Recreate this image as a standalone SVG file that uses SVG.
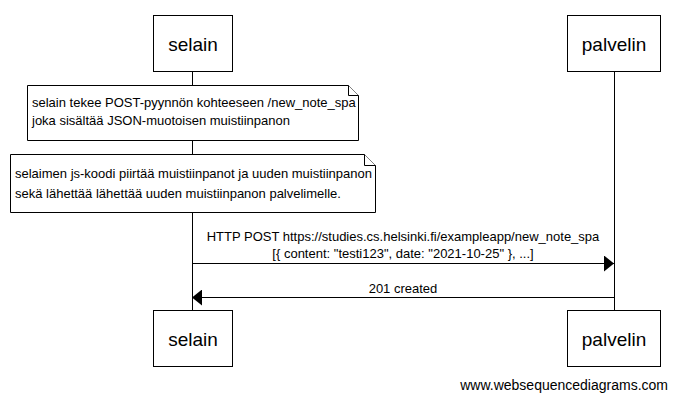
<svg xmlns="http://www.w3.org/2000/svg" width="675" height="400" viewBox="0 0 675 400">
<defs>
<style>
text{font-family:"Liberation Sans",Arial,sans-serif;fill:#000}
.p{font-size:19px;text-anchor:middle}
.t{font-size:13px}
.m{font-size:13px;text-anchor:middle}
.box{fill:#fff;stroke:#000;stroke-width:1}
.note{fill:#fff;stroke:#000;stroke-width:1}
.life{stroke:#000;stroke-width:1;fill:none}
.msg{stroke:#000;stroke-width:1;fill:none}
</style>
<marker id="ah" markerWidth="10" markerHeight="16" refX="10" refY="8" orient="auto" markerUnits="userSpaceOnUse">
<path d="M0,0 L10,8 L0,16 Z" fill="#000"/>
</marker>
</defs>
<rect width="675" height="400" fill="#fff"/>
<g id="lifelines">
<line class="life" x1="192.5" y1="71" x2="192.5" y2="310"/>
<line class="life" x1="614.5" y1="71" x2="614.5" y2="310"/>
</g>
<g id="selain-top">
<rect class="box" x="153.5" y="15.5" width="79" height="56"/>
<text class="p" x="193" y="51">selain</text>
</g>
<g id="palvelin-top">
<rect class="box" x="567.5" y="15.5" width="93" height="56"/>
<text class="p" x="614" y="51">palvelin</text>
</g>
<g id="note1">
<path class="note" d="M27.5,85.5 H348.5 L358.5,95.5 V140.5 H27.5 Z"/>
<path class="note" d="M348.5,85.5 V95.5 H358.5"/>
<text class="t" x="32" y="107">selain tekee POST-pyynnön kohteeseen /new_note_spa</text>
<text class="t" x="32" y="125">joka sisältää JSON-muotoisen muistiinpanon</text>
</g>
<g id="note2">
<path class="note" d="M10.5,154.5 H364.5 L375.5,165.5 V212.5 H10.5 Z"/>
<path class="note" d="M364.5,154.5 V165.5 H375.5"/>
<text class="t" x="15" y="178">selaimen js-koodi piirtää muistiinpanot ja uuden muistiinpanon</text>
<text class="t" x="15" y="198">sekä lähettää lähettää uuden muistiinpanon palvelimelle.</text>
</g>
<g id="connectors">
<line class="msg" x1="192.5" y1="263.5" x2="614" y2="263.5" marker-end="url(#ah)"/>
<text class="m" x="403" y="241">HTTP POST https://studies.cs.helsinki.fi/exampleapp/new_note_spa</text>
<text class="m" x="403" y="258">[{ content: "testi123", date: "2021-10-25" }, ...]</text>
<line class="msg" x1="614.5" y1="297.5" x2="192" y2="297.5" marker-end="url(#ah)"/>
<text class="m" x="403" y="293">201 created</text>
</g>
<g id="selain-bottom">
<rect class="box" x="153.5" y="310.5" width="79" height="56"/>
<text class="p" x="193" y="346">selain</text>
</g>
<g id="palvelin-bottom">
<rect class="box" x="567.5" y="310.5" width="93" height="56"/>
<text class="p" x="614" y="346">palvelin</text>
</g>
<text x="668" y="390" text-anchor="end" font-size="14">www.websequencediagrams.com</text>
</svg>
